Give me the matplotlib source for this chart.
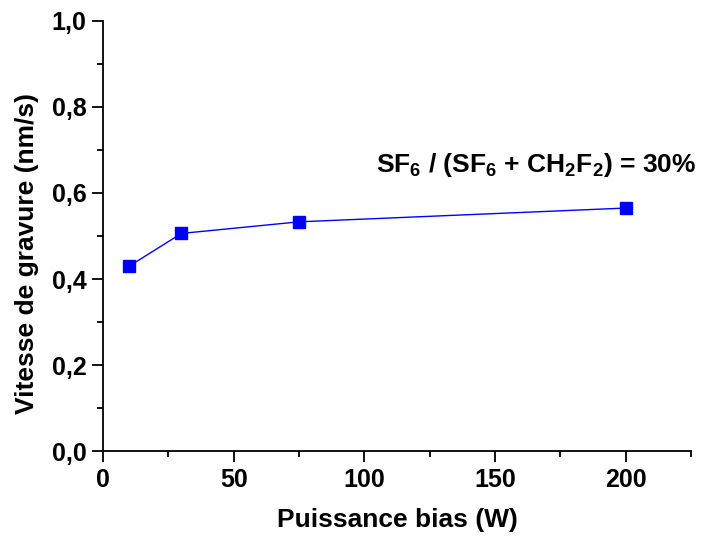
import matplotlib
matplotlib.use("Agg")
import matplotlib.pyplot as plt
from matplotlib.ticker import MultipleLocator, FuncFormatter

plt.rcParams['font.family'] = ['Liberation Sans', 'DejaVu Sans']
plt.rcParams['font.weight'] = 'bold'
plt.rcParams['mathtext.fontset'] = 'custom'
plt.rcParams['mathtext.rm'] = 'Liberation Sans:bold'
plt.rcParams['mathtext.it'] = 'Liberation Sans:bold'
plt.rcParams['mathtext.bf'] = 'Liberation Sans:bold'

power = [10, 30, 75, 200]
rate = [0.43, 0.506, 0.533, 0.565]

fig = plt.figure(figsize=(7.01, 5.37), dpi=100)
ax = fig.add_axes([0.147, 0.160, 0.839, 0.801])
ax.plot(power, rate, color='#0000FF', lw=1.0, marker='s', markersize=9,
        markerfacecolor='#0000FF', markeredgecolor='#0000FF')

ax.set_xlim(0, 225)
ax.set_ylim(0, 1.0)
ax.spines['top'].set_visible(False)
ax.spines['right'].set_visible(False)
for s in ['left', 'bottom']:
    ax.spines[s].set_linewidth(1.3)

ax.xaxis.set_major_locator(MultipleLocator(50))
ax.xaxis.set_minor_locator(MultipleLocator(25))
ax.yaxis.set_major_locator(MultipleLocator(0.2))
ax.yaxis.set_minor_locator(MultipleLocator(0.1))
ax.yaxis.set_major_formatter(FuncFormatter(lambda v, p: f"{v:.1f}".replace('.', ',')))
ax.tick_params(which='major', direction='out', length=8, width=1.3, labelsize=18, pad=4)
ax.tick_params(which='minor', direction='out', length=4, width=1.3)
for lab in ax.get_xticklabels() + ax.get_yticklabels():
    lab.set_fontweight('bold')

ax.set_xlabel('Puissance bias (W)', fontsize=19, fontweight='bold', labelpad=12)
ax.set_ylabel('Vitesse de gravure (nm/s)', fontsize=19, fontweight='bold')
ax.yaxis.set_label_coords(-0.109, 0.46)

ax.text(165.7, 0.649, 'SF$_6$ / (SF$_6$ + CH$_2$F$_2$) = 30%', fontsize=19,
        ha='center', va='baseline')

fig.savefig('out.png', dpi=100)
